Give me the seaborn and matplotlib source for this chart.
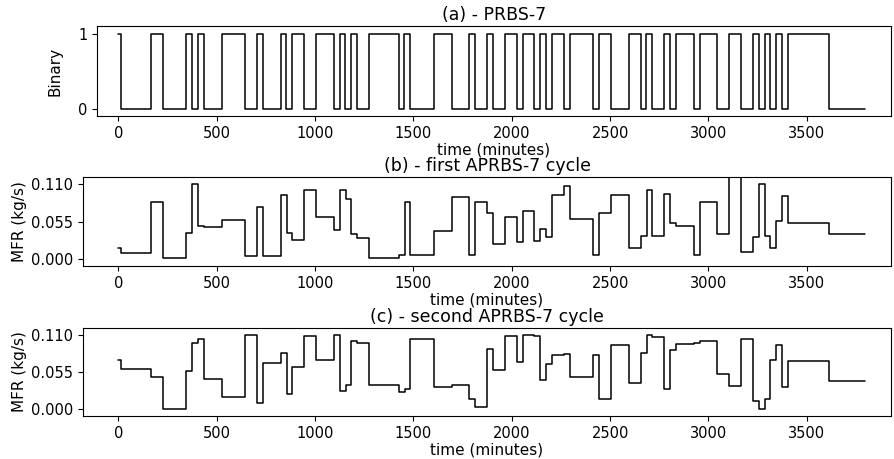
import numpy as np
import pandas as pd
import matplotlib
matplotlib.use('Agg')
import matplotlib.pyplot as plt
from matplotlib.ticker import FormatStrFormatter
import seaborn as sns

# ============ Data ============
# PRBS-7 sequence, one bit every 30 minutes
prbs_bits = [
    1, 0, 0, 0, 0, 0, 1, 1, 0, 0,
    0, 0, 1, 0, 1, 0, 0, 0, 1, 1,
    1, 1, 0, 0, 1, 0, 0, 0, 1, 0,
    1, 1, 0, 0, 1, 1, 1, 0, 1, 0,
    1, 0, 0, 1, 1, 1, 1, 1, 0, 1,
    0, 0, 0, 0, 1, 1, 1, 0, 0, 0,
    1, 0, 0, 1, 0, 0, 1, 1, 0, 1,
    1, 0, 1, 0, 1, 1, 0, 1, 1, 1,
    1, 0, 1, 1, 0, 0, 0, 1, 1, 0,
    1, 0, 0, 1, 0, 1, 1, 1, 0, 1,
    1, 1, 0, 0, 1, 1, 0, 0, 1, 0,
    1, 0, 1, 0, 1, 1, 1, 1, 1, 1,
    1, 0, 0, 0, 0, 0, 0,
]
bit_period = 30  # minutes

# APRBS amplitude (kg/s), one level per constant run of the PRBS
aprbs_first = [
    0.016, 0.009, 0.084, 0.0015, 0.038, 0.110, 0.049, 0.047, 0.057, 0.004,
    0.076, 0.004, 0.094, 0.038, 0.028, 0.101, 0.062, 0.042, 0.101, 0.089,
    0.037, 0.030, 0.0005, 0.005, 0.084, 0.005, 0.041, 0.092, 0.005, 0.084,
    0.068, 0.021, 0.061, 0.024, 0.070, 0.026, 0.044, 0.032, 0.094, 0.108,
    0.058, 0.005, 0.068, 0.095, 0.016, 0.034, 0.102, 0.034, 0.096, 0.053,
    0.049, 0.005, 0.084, 0.037, 0.125, 0.010, 0.032, 0.110, 0.034, 0.015,
    0.056, 0.093, 0.053, 0.037,
]
aprbs_second = [
    0.073, 0.060, 0.047, 0.000, 0.057, 0.099, 0.105, 0.045, 0.017, 0.111,
    0.008, 0.069, 0.083, 0.022, 0.063, 0.109, 0.073, 0.111, 0.027, 0.035,
    0.101, 0.099, 0.036, 0.025, 0.030, 0.104, 0.032, 0.036, 0.015, 0.003,
    0.089, 0.058, 0.109, 0.070, 0.110, 0.109, 0.043, 0.067, 0.081, 0.082,
    0.048, 0.081, 0.014, 0.095, 0.039, 0.084, 0.110, 0.107, 0.029, 0.088,
    0.097, 0.099, 0.102, 0.052, 0.034, 0.104, 0.012, 0.000, 0.014, 0.073,
    0.095, 0.032, 0.071, 0.041,
]

# ============ Build step series ============
bits = np.array(prbs_bits)
sample_time = np.arange(len(bits)) * bit_period
edges = np.concatenate([[0], sample_time + bit_period / 2])
run_id = np.concatenate([[0], np.cumsum(np.diff(bits) != 0)])


def as_steps(values):
    values = list(values)
    return pd.DataFrame({'time': edges, 'value': values + [values[-1]]})


prbs_df = as_steps(bits)
aprbs1_df = as_steps(np.array(aprbs_first)[run_id])
aprbs2_df = as_steps(np.array(aprbs_second)[run_id])

# ============ Style ============
sns.set_style('ticks')
plt.rcParams['font.family'] = ['DejaVu Sans']
plt.rcParams['axes.edgecolor'] = 'black'
plt.rcParams['text.color'] = 'black'
plt.rcParams['axes.labelcolor'] = 'black'
plt.rcParams['xtick.color'] = 'black'
plt.rcParams['ytick.color'] = 'black'

W, H = 894, 459
fig = plt.figure(figsize=(W / 100, H / 100), dpi=100)


def add_box(left, top, right, bottom):
    return fig.add_axes([left / W, 1 - bottom / H, (right - left) / W, (bottom - top) / H])


ax_a = add_box(97, 26, 891, 116)
ax_b = add_box(83, 177, 891, 266)
ax_c = add_box(83, 328, 891, 416)

panels = [
    (ax_a, prbs_df, '(a) - PRBS-7', 'Binary', 1.0, -108, 11),
    (ax_b, aprbs1_df, '(b) - first APRBS-7 cycle', 'MFR (kg/s)', 0.11, -180, 3),
    (ax_c, aprbs2_df, '(c) - second APRBS-7 cycle', 'MFR (kg/s)', 0.11, -180, 3),
]

for ax, df, title, ylab, amp, xleft, ypad in panels:
    sns.lineplot(data=df, x='time', y='value', ax=ax, color='black',
                 linewidth=1.1, drawstyle='steps-post', estimator=None)
    ax.set_title(title, fontsize=12.5, pad=4)
    ax.set_xlabel('time (minutes)', fontsize=11, labelpad=1)
    ax.set_ylabel(ylab, fontsize=11, labelpad=ypad)
    ax.set_xlim(xleft, 3928)
    ax.set_ylim(-0.1 * amp, 1.1 * amp)
    ax.set_xticks(range(0, 4000, 500))
    ax.tick_params(labelsize=10.5)
    for s in ax.spines.values():
        s.set_linewidth(0.8)

ax_a.set_yticks([0, 1])
for ax in (ax_b, ax_c):
    ax.set_yticks([0, 0.055, 0.11])
    ax.yaxis.set_major_formatter(FormatStrFormatter('%.3f'))

fig.savefig('out.png', dpi=100)
